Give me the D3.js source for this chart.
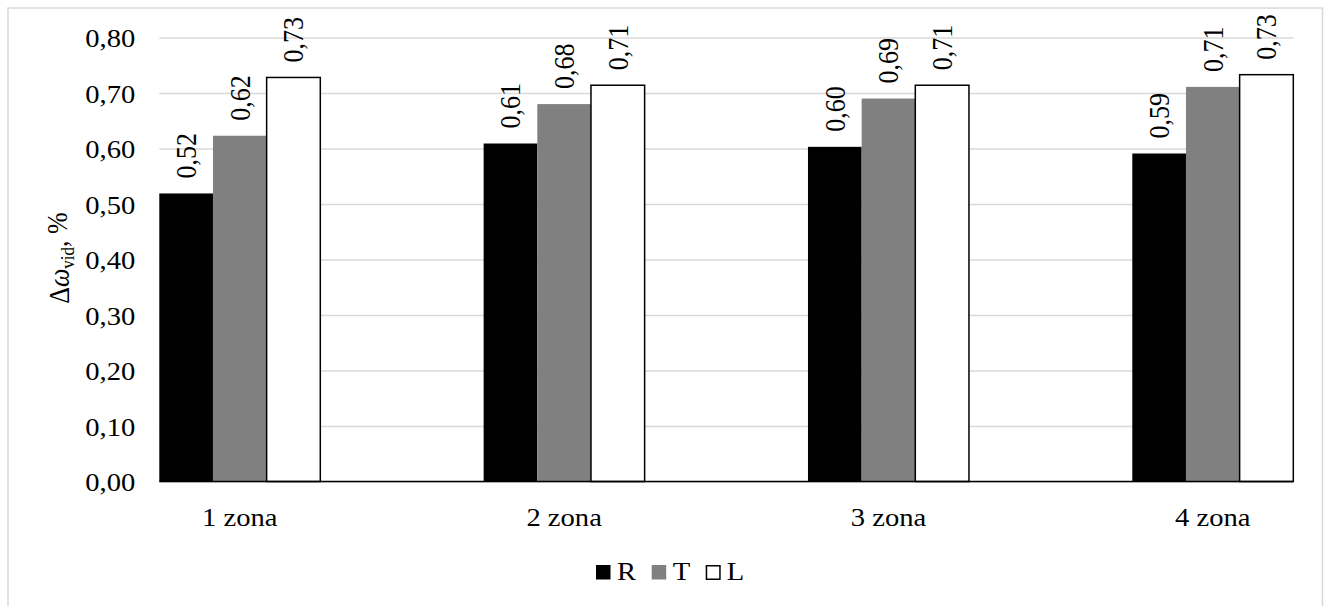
<!DOCTYPE html>
<html>
<head>
<meta charset="utf-8">
<script src="https://cdn.jsdelivr.net/npm/d3@7"></script>
<style>
  body { margin: 0; background: #fff; }
  text { font-family: "Liberation Serif", "Times New Roman", serif; fill: #000; }
</style>
</head>
<body>
<svg id="chart"></svg>
<script>
const categories = ["1 zona", "2 zona", "3 zona", "4 zona"]
const seriesNames = ["R", "T", "L"]
const valuesR = [0.519, 0.609, 0.603, 0.591]
const valuesT = [0.623, 0.680, 0.690, 0.711]
const valuesL = [0.728, 0.714, 0.714, 0.733]
const yTicks = [0, 0.1, 0.2, 0.3, 0.4, 0.5, 0.6, 0.7, 0.8]

const width = 1328
const height = 606
const fontSize = 26
const sx = 1.1   // the original is a bit stretched sideways

const fills = { R: "#000000", T: "#808080", L: "#ffffff" }
const valuesBy = { R: valuesR, T: valuesT, L: valuesL }
const fmt = v => v.toFixed(2).replace(".", ",")

const svg = d3.select("#chart")
  .attr("width", width)
  .attr("height", height)

// outer frame
svg.append("rect")
  .attr("x", 8).attr("y", 8)
  .attr("width", 1314.5).attr("height", 620)
  .attr("fill", "none")
  .attr("stroke", "#d9d9d9")
  .attr("stroke-width", 1.5)

const plotLeft = 159.3, plotRight = 1293.3

var y = d3.scaleLinear()
  .domain([0, 0.8])
  .range([481.5, 37.5])

var x0 = d3.scalePoint()
  .domain(categories)
  .range([239.8, 1212.8])

var x1 = d3.scaleBand()
  .domain(seriesNames)
  .range([-80.5, 80.5])

// gridlines + y labels
var yAxis = svg.append("g")
  .attr("transform", "translate(" + plotLeft + ",0)")
  .call(d3.axisLeft(y)
    .tickValues(yTicks)
    .tickSize(-(plotRight - plotLeft))
    .tickFormat(fmt))

yAxis.select(".domain").remove()
yAxis.selectAll(".tick line")
  .attr("stroke", "#d9d9d9")
  .attr("stroke-width", 1.5)
yAxis.selectAll(".tick text")
  .attr("x", null)
  .attr("dy", "0.35em")
  .attr("transform", "translate(-24,0) scale(" + sx + ",1)")
  .style("font-size", fontSize + "px")
  .style("font-family", "Liberation Serif")

// bars
var rows = categories.map((c, i) => ({
  cat: c,
  bars: seriesNames.map(s => ({ key: s, value: valuesBy[s][i] }))
}))

var groups = svg.append("g")
  .selectAll("g")
  .data(rows)
  .enter().append("g")
  .attr("transform", d => "translate(" + x0(d.cat) + ",0)")

groups.selectAll("rect")
  .data(d => d.bars)
  .enter().append("rect")
  .attr("x", d => x1(d.key))
  .attr("y", d => y(d.value))
  .attr("width", x1.bandwidth())
  .attr("height", d => y(0) - y(d.value))
  .attr("fill", d => fills[d.key])
  .attr("stroke", d => d.key == "L" ? "#000" : "none")
  .attr("stroke-width", 1.5)

// data labels, rotated
groups.selectAll("text.lbl")
  .data(d => d.bars)
  .enter().append("text")
  .attr("class", "lbl")
  .attr("transform", d => "translate(" + (x1(d.key) + x1.bandwidth() / 2) + "," + (y(d.value) - 15) + ") scale(" + sx + ",1) rotate(-90)")
  .attr("dy", "0.35em")
  .style("font-size", fontSize + "px")
  .text(d => fmt(d.value))

// category axis line
svg.append("line")
  .attr("x1", plotLeft).attr("x2", plotRight)
  .attr("y1", y(0)).attr("y2", y(0))
  .attr("stroke", "#000")
  .attr("stroke-width", 1.5)

// category labels
svg.append("g")
  .selectAll("text")
  .data(categories)
  .enter().append("text")
  .attr("transform", d => "translate(" + x0(d) + ",526) scale(" + sx + ",1)")
  .attr("text-anchor", "middle")
  .style("font-size", fontSize + "px")
  .text(d => d)

// y title
var yTitle = svg.append("text")
  .attr("transform", "translate(59,258) scale(" + sx + ",1) rotate(-90)")
  .attr("text-anchor", "middle")
  .attr("dy", "0.35em")
  .style("font-size", fontSize + "px")
yTitle.append("tspan").text("Δ")
yTitle.append("tspan").style("font-style", "italic").text("ω")
yTitle.append("tspan").attr("dy", "0.25em").style("font-size", "17px").text("vid")
yTitle.append("tspan").attr("dy", "-0.25em").text(", %")

// legend
const legendX = [596, 651.7, 705.7]
var legend = svg.append("g")
  .selectAll("g")
  .data(seriesNames)
  .enter().append("g")
  .attr("transform", (d, i) => "translate(" + legendX[i] + ",565)")

legend.append("rect")
  .attr("x", d => d == "L" ? 0.75 : 0)
  .attr("y", d => d == "L" ? 0.75 : 0)
  .attr("width", d => d == "L" ? 13.5 : 14.5)
  .attr("height", d => d == "L" ? 13.5 : 14.5)
  .attr("fill", d => fills[d])
  .attr("stroke", d => d == "L" ? "#000" : "none")
  .attr("stroke-width", 1.5)

legend.append("text")
  .attr("transform", "translate(21,15) scale(" + sx + ",1)")
  .style("font-size", fontSize + "px")
  .text(d => d)
</script>
</body>
</html>
